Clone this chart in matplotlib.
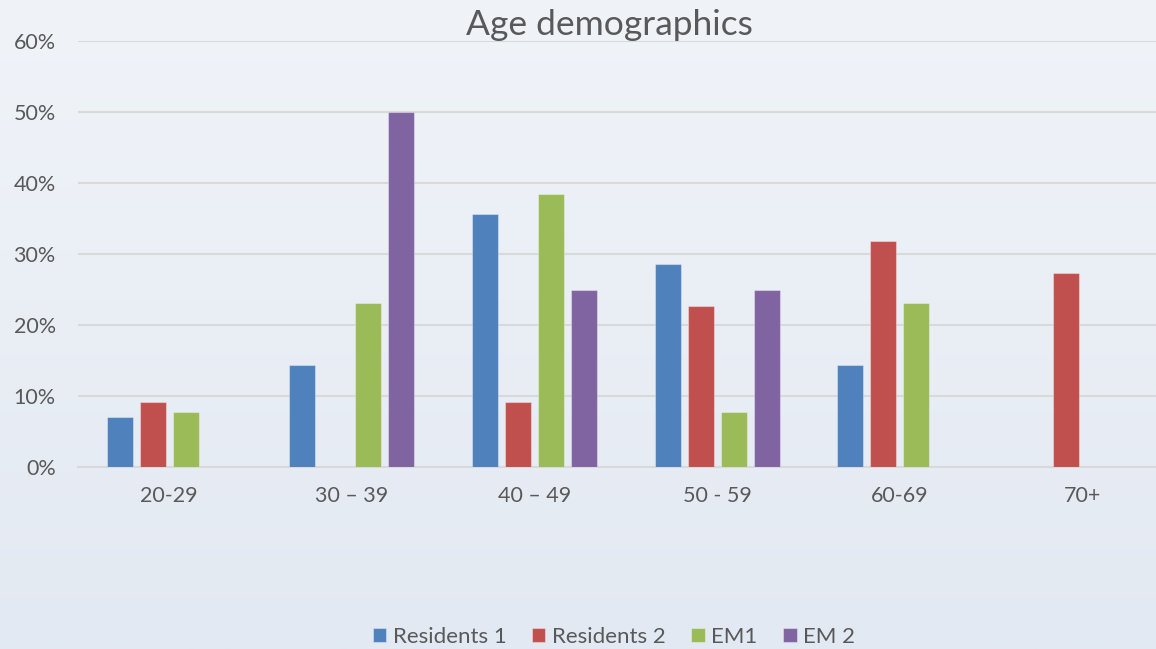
import matplotlib
matplotlib.use("Agg")
import matplotlib.pyplot as plt
import numpy as np
from matplotlib.ticker import FuncFormatter

categories = ["20-29", "30 – 39", "40 – 49", "50 - 59", "60-69", "70+"]
series_names = ["Residents 1", "Residents 2", "EM1", "EM 2"]
residents1 = [7.1, 14.3, 35.7, 28.6, 14.3, 0]
residents2 = [9.1, 0, 9.1, 22.7, 31.8, 27.3]
em1 = [7.7, 23.1, 38.5, 7.7, 23.1, 0]
em2 = [0, 50, 25, 25, 0, 0]
colors = ["#4F81BD", "#C0504D", "#9BBB59", "#8064A2"]

plt.rcParams['font.family'] = ['Lato', 'DejaVu Sans']

W, H = 1156, 649
fig = plt.figure(figsize=(W/100, H/100), dpi=100)

# background gradient
bg = fig.add_axes([0, 0, 1, 1], zorder=-10)
grad = np.linspace(0, 1, 256).reshape(-1, 1)
top = np.array([0xF0, 0xF4, 0xF9]) / 255
bot = np.array([0xE3, 0xE9, 0xF2]) / 255
img = top[None, None, :] * (1 - grad[:, :, None]) + bot[None, None, :] * grad[:, :, None]
bg.imshow(img, aspect='auto', extent=[0, 1, 0, 1])
bg.axis('off')

left = 78 / W
bottom = 1 - 467 / H
height = (467 - 41) / H
width = 6 * 182.6 / W
ax = fig.add_axes([left, bottom, width, height])
ax.set_facecolor('none')

x = np.arange(len(categories))
pitch = 0.1807
bw = 0.1424
data = [residents1, residents2, em1, em2]
for i, (name, vals, c) in enumerate(zip(series_names, data, colors)):
    ax.bar(x + (i - 1.5) * pitch, vals, width=bw, color=c, label=name, zorder=3,
           edgecolor=(1, 1, 1, 0.35), linewidth=0.8)

ax.set_xlim(-0.5, len(categories) - 0.5)
ax.set_ylim(0, 60)
ax.set_yticks(np.arange(0, 61, 10))
ax.yaxis.set_major_formatter(FuncFormatter(lambda v, p: f"{int(v)}%"))
ax.set_xticks(x)
ax.set_xticklabels(categories)
ax.grid(axis='y', color='#D9D9D9', linewidth=1.5, zorder=0)
for s in ['top', 'right', 'left']:
    ax.spines[s].set_visible(False)
ax.spines['bottom'].set_color('#D9D9D9')
ax.spines['bottom'].set_linewidth(1.5)
ax.tick_params(axis='both', length=0, labelsize=15.5, labelcolor='#595959')
ax.tick_params(axis='y', pad=16)
ax.tick_params(axis='x', pad=14)

fig.text(609 / W, 1 - 25 / H, "Age demographics", ha='center', va='center',
         fontsize=25.5, color='#595959')

handles, labels = ax.get_legend_handles_labels()
fig.legend(handles, labels, loc='center', bbox_to_anchor=(614 / W, 1 - 637 / H),
           ncol=4, frameon=False, fontsize=16, labelcolor='#595959',
           handlelength=0.6, handleheight=0.6, handletextpad=0.3, columnspacing=1.15)

fig.savefig("out.png", dpi=100)
